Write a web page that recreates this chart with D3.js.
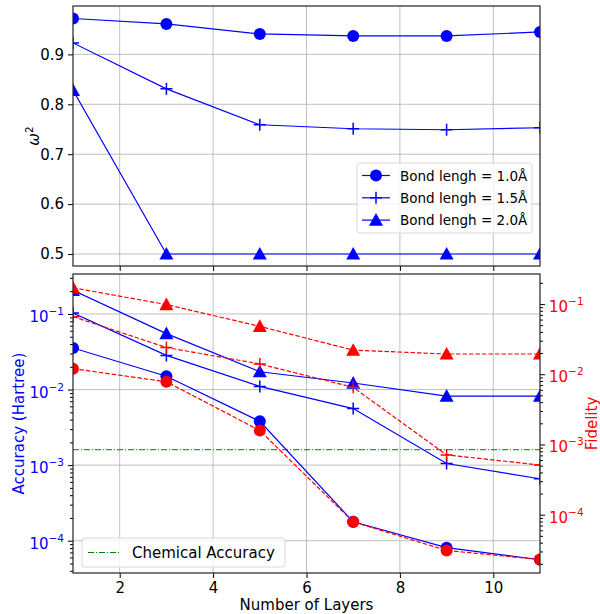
<!DOCTYPE html>
<html>
<head>
<script src="https://d3js.org/d3.v7.min.js"></script>
<style>
  body { margin: 0; background: #fff; }
  text { font-family: "DejaVu Sans", sans-serif; }
  .grid line { stroke: #b0b0b0; stroke-width: 0.8; }
</style>
</head>
<body>
<svg id="chart" width="600" height="614"></svg>
<script>
// data
var layers = [1, 3, 5, 7, 9, 11];
var xTicks = [2, 4, 6, 8, 10];

// top panel: omega^2
var omega10 = [0.972, 0.961, 0.941, 0.937, 0.937, 0.945];
var omega15 = [0.923, 0.831, 0.759, 0.751, 0.749, 0.753];
var omega20 = [0.828, 0.5, 0.5, 0.5, 0.5, 0.5];
var omegaTicks = [0.5, 0.6, 0.7, 0.8, 0.9];
var legendLabels = ["Bond lengh = 1.0\u00c5", "Bond lengh = 1.5\u00c5", "Bond lengh = 2.0\u00c5"];

// bottom panel: accuracy (left, blue) and fidelity (right, red)
var acc10 = [0.0355, 0.0150, 0.0038, 1.78e-4, 8.1e-5, 5.6e-5];
var acc15 = [0.103, 0.0283, 0.0110, 0.0056, 1.05e-3, 6.6e-4];
var acc20 = [0.205, 0.055, 0.0172, 0.0122, 0.0082, 0.0082];
var fid10 = [0.0120, 0.0078, 1.58e-3, 7.9e-5, 3.1e-5, 2.3e-5];
var fid15 = [0.066, 0.024, 0.0140, 0.0065, 7.1e-4, 5.1e-4];
var fid20 = [0.17, 0.098, 0.048, 0.022, 0.0194, 0.0194];
var chemAcc = 1.6e-3;
var logTicks = [-4, -3, -2, -1];

var svg = d3.select("#chart");
var left = 73, right = 540;
var top1 = 6, bot1 = 266, top2 = 274, bot2 = 573;
var fs = 15;

var x = d3.scaleLinear().domain([1, 11]).range([left, right]);
var y1 = d3.scaleLinear().domain([0.476, 0.997]).range([bot1, top1]);
var yL = d3.scaleLog().domain([3.74e-5, 0.338]).range([bot2, top2]);
var yR = d3.scaleLog().domain([1.48e-5, 0.267]).range([bot2, top2]);

var blue = "#0000ff", red = "#ff0000";

function marker(g, type, cx, cy, color) {
  if (type == "circle") {
    g.append("circle").attr("cx", cx).attr("cy", cy).attr("r", 6).attr("fill", color);
  } else if (type == "tri") {
    var s = 7;
    g.append("path")
      .attr("d", "M" + cx + "," + (cy - s) + "L" + (cx + s) + "," + (cy + s * 0.8) + "L" + (cx - s) + "," + (cy + s * 0.8) + "Z")
      .attr("fill", color);
  } else {
    g.append("path")
      .attr("d", "M" + (cx - 6) + "," + cy + "H" + (cx + 6) + "M" + cx + "," + (cy - 6) + "V" + (cy + 6))
      .attr("stroke", color).attr("stroke-width", 1.5);
  }
}

function series(g, vals, ys, type, color, dash) {
  var line = d3.line().x(function(d, i) { return x(layers[i]); }).y(function(d) { return ys(d); });
  g.append("path").datum(vals).attr("d", line)
    .attr("fill", "none").attr("stroke", color).attr("stroke-width", 1.2)
    .attr("stroke-dasharray", dash ? "4.5,2" : null);
  vals.forEach(function(v, i) { marker(g, type, x(layers[i]), ys(v), color); });
}

function supLabel(sel, e, color) {
  sel.text(null);
  sel.append("tspan").text("10");
  sel.append("tspan").attr("dy", -7).attr("font-size", 10.5).text("\u2212" + Math.abs(e));
  sel.attr("fill", color);
}

// ---------- top panel ----------
svg.append("defs").append("clipPath").attr("id", "clip1")
  .append("rect").attr("x", left).attr("y", top1).attr("width", right - left).attr("height", bot1 - top1);
svg.select("defs").append("clipPath").attr("id", "clip2")
  .append("rect").attr("x", left).attr("y", top2).attr("width", right - left).attr("height", bot2 - top2);

var g1 = svg.append("g");
var grid1 = g1.append("g").attr("class", "grid");
xTicks.forEach(function(t) {
  grid1.append("line").attr("x1", x(t)).attr("x2", x(t)).attr("y1", top1).attr("y2", bot1);
});
omegaTicks.forEach(function(t) {
  grid1.append("line").attr("x1", left).attr("x2", right).attr("y1", y1(t)).attr("y2", y1(t));
});

var p1 = g1.append("g").attr("clip-path", "url(#clip1)");
series(p1, omega10, y1, "circle", blue, false);
series(p1, omega15, y1, "plus", blue, false);
series(p1, omega20, y1, "tri", blue, false);

g1.append("g").attr("transform", "translate(" + left + ",0)")
  .call(d3.axisLeft(y1).tickValues(omegaTicks).tickFormat(d3.format(".1f")).tickSize(5).tickPadding(4))
  .call(function(a) { a.select(".domain").remove(); a.selectAll("text").attr("font-size", fs).attr("fill", "#000").style("font-family", "DejaVu Sans"); });
g1.append("g").attr("transform", "translate(0," + bot1 + ")")
  .call(d3.axisBottom(x).tickValues(xTicks).tickFormat("").tickSize(5))
  .call(function(a) { a.select(".domain").remove(); });
g1.append("rect").attr("x", left).attr("y", top1).attr("width", right - left).attr("height", bot1 - top1)
  .attr("fill", "none").attr("stroke", "#222").attr("stroke-width", 1.2);

g1.append("text").attr("transform", "translate(39," + ((top1 + bot1) / 2) + ") rotate(-90)")
  .attr("text-anchor", "middle").attr("font-size", fs)
  .html('<tspan font-style="italic">\u03c9</tspan><tspan dy="-6" font-size="10.5">2</tspan>');

// legend top
var lg = g1.append("g").attr("transform", "translate(357,163)");
lg.append("rect").attr("width", 175).attr("height", 70).attr("rx", 3)
  .attr("fill", "#fff").attr("fill-opacity", 0.8).attr("stroke", "#d9d9d9");
["circle", "plus", "tri"].forEach(function(t, i) {
  var yy = 12.5 + i * 22.3;
  lg.append("line").attr("x1", 5).attr("x2", 33).attr("y1", yy).attr("y2", yy).attr("stroke", blue).attr("stroke-width", 1.2);
  marker(lg, t, 19, yy, blue);
  lg.append("text").attr("x", 43).attr("y", yy + 5).attr("font-size", 13.5).text(legendLabels[i]);
});

// ---------- bottom panel ----------
var g2 = svg.append("g");
var grid2 = g2.append("g").attr("class", "grid");
xTicks.forEach(function(t) {
  grid2.append("line").attr("x1", x(t)).attr("x2", x(t)).attr("y1", top2).attr("y2", bot2);
});
logTicks.forEach(function(e) {
  var yy = yL(Math.pow(10, e));
  grid2.append("line").attr("x1", left).attr("x2", right).attr("y1", yy).attr("y2", yy);
});

var p2 = g2.append("g").attr("clip-path", "url(#clip2)");
p2.append("line").attr("x1", left).attr("x2", right).attr("y1", yL(chemAcc)).attr("y2", yL(chemAcc))
  .attr("stroke", "#008000").attr("stroke-width", 1).attr("stroke-dasharray", "6,2,1,2");
series(p2, acc10, yL, "circle", blue, false);
series(p2, acc15, yL, "plus", blue, false);
series(p2, acc20, yL, "tri", blue, false);
series(p2, fid10, yR, "circle", red, true);
series(p2, fid15, yR, "plus", red, true);
series(p2, fid20, yR, "tri", red, true);

function minorVals(scale) {
  var d = scale.domain(), out = [];
  for (var e = -6; e <= 0; e++) {
    for (var m = 2; m <= 9; m++) {
      var v = m * Math.pow(10, e);
      if (v >= d[0] && v <= d[1]) out.push(v);
    }
  }
  return out;
}
function majorVals(scale) {
  var d = scale.domain();
  return logTicks.map(function(e) { return Math.pow(10, e); }).filter(function(v) { return v >= d[0] && v <= d[1]; });
}

// left axis
g2.append("g").attr("transform", "translate(" + left + ",0)")
  .call(d3.axisLeft(yL).tickValues(minorVals(yL)).tickFormat("").tickSize(3))
  .call(function(a) { a.select(".domain").remove(); });
g2.append("g").attr("transform", "translate(" + left + ",0)")
  .call(d3.axisLeft(yL).tickValues(majorVals(yL)).tickSize(5).tickPadding(4))
  .call(function(a) {
    a.select(".domain").remove();
    a.selectAll("text").attr("font-size", fs).style("font-family", "DejaVu Sans")
      .each(function(d) { supLabel(d3.select(this), Math.round(Math.log10(d)), blue); })
      .attr("dy", "0.5em");
  });
// right axis
g2.append("g").attr("transform", "translate(" + right + ",0)")
  .call(d3.axisRight(yR).tickValues(minorVals(yR)).tickFormat("").tickSize(3))
  .call(function(a) { a.select(".domain").remove(); });
g2.append("g").attr("transform", "translate(" + right + ",0)")
  .call(d3.axisRight(yR).tickValues(majorVals(yR)).tickSize(5).tickPadding(4))
  .call(function(a) {
    a.select(".domain").remove();
    a.selectAll("text").attr("font-size", fs).style("font-family", "DejaVu Sans")
      .each(function(d) { supLabel(d3.select(this), Math.round(Math.log10(d)), red); })
      .attr("dy", "0.5em");
  });
// bottom axis
g2.append("g").attr("transform", "translate(0," + bot2 + ")")
  .call(d3.axisBottom(x).tickValues(xTicks).tickFormat(d3.format("d")).tickSize(5).tickPadding(4))
  .call(function(a) { a.select(".domain").remove(); a.selectAll("text").attr("font-size", fs).attr("fill", "#000").style("font-family", "DejaVu Sans"); });
g2.append("rect").attr("x", left).attr("y", top2).attr("width", right - left).attr("height", bot2 - top2)
  .attr("fill", "none").attr("stroke", "#222").attr("stroke-width", 1.2);

g2.append("text").attr("transform", "translate(24," + ((top2 + bot2) / 2) + ") rotate(-90)")
  .attr("text-anchor", "middle").attr("font-size", fs).attr("fill", blue).text("Accuracy (Hartree)");
g2.append("text").attr("transform", "translate(597," + ((top2 + bot2) / 2) + ") rotate(-90)")
  .attr("text-anchor", "middle").attr("font-size", fs).attr("fill", red).text("Fidelity");
g2.append("text").attr("x", (left + right) / 2).attr("y", 610)
  .attr("text-anchor", "middle").attr("font-size", fs).text("Number of Layers");

// legend bottom
var lg2 = g2.append("g").attr("transform", "translate(82,538)");
lg2.append("rect").attr("width", 203).attr("height", 29).attr("rx", 3)
  .attr("fill", "#fff").attr("fill-opacity", 0.8).attr("stroke", "#d9d9d9");
lg2.append("line").attr("x1", 6).attr("x2", 37).attr("y1", 14.5).attr("y2", 14.5)
  .attr("stroke", "#008000").attr("stroke-width", 1).attr("stroke-dasharray", "6,2,1,2");
lg2.append("text").attr("x", 50).attr("y", 20).attr("font-size", fs).text("Chemical Accuracy");
</script>
</body>
</html>
